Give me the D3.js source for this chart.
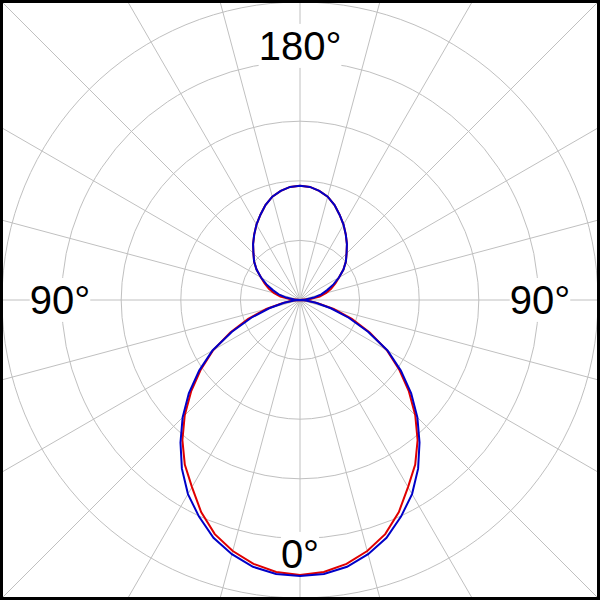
<!DOCTYPE html>
<html>
<head>
<meta charset="utf-8">
<script src="https://cdn.jsdelivr.net/npm/d3@7"></script>
<style>
  html, body { margin: 0; padding: 0; background: #fff; }
  svg { display: block; }
</style>
</head>
<body>
<script>
// Angles in degrees, measured from the 0° direction (pointing down)
const angles = [0,5,10,15,20,25,30,35,40,45,50,55,60,65,70,75,80,85,
  90,95,100,105,110,115,120,125,130,135,140,145,150,155,160,165,170,175,
  180,185,190,195,200,205,210,215,220,225,230,235,240,245,250,255,260,265,
  270,275,280,285,290,295,300,305,310,315,320,325,330,335,340,345,350,355];

// Measured pattern (blue)
const measured = [0.926,0.923,0.909,0.883,0.849,0.802,0.752,0.691,0.624,0.557,0.487,0.413,0.339,0.252,0.174,0.107,0.054,0.020,
  0,0.020,0.047,0.074,0.097,0.124,0.151,0.178,0.201,0.221,0.245,0.268,0.292,0.315,0.339,0.359,0.372,0.381,
  0.383,0.381,0.372,0.359,0.339,0.315,0.292,0.268,0.245,0.221,0.201,0.178,0.151,0.124,0.097,0.074,0.047,0.020,
  0,0.020,0.054,0.107,0.174,0.252,0.339,0.413,0.487,0.557,0.624,0.691,0.752,0.802,0.849,0.883,0.909,0.923];

// Reference pattern (red)
const reference = [0.923,0.916,0.899,0.872,0.836,0.785,0.725,0.674,0.614,0.547,0.477,0.406,0.336,0.258,0.185,0.117,0.060,0.023,
  0,0.034,0.067,0.091,0.111,0.131,0.151,0.178,0.201,0.221,0.245,0.268,0.292,0.315,0.339,0.359,0.372,0.381,
  0.383,0.381,0.372,0.359,0.339,0.315,0.292,0.268,0.245,0.221,0.201,0.178,0.151,0.131,0.111,0.091,0.067,0.034,
  0,0.023,0.060,0.117,0.185,0.258,0.336,0.406,0.477,0.547,0.614,0.674,0.725,0.785,0.836,0.872,0.899,0.916];

const ringValues = [0.2, 0.4, 0.6, 0.8, 1.0];
const spokeAngles = d3.range(0, 360, 15);
const labelAngles = [0, 90, 180, 270];
const labelTexts = ["0°", "90°", "180°", "90°"];

const W = 600, H = 600, cx = 300, cy = 300;
const svg = d3.select("body").append("svg").attr("width", W).attr("height", H);

svg.append("rect").attr("x",0).attr("y",0).attr("width",W).attr("height",H).attr("fill","#fff");

svg.append("defs").append("clipPath").attr("id","clip")
  .append("rect").attr("x",2).attr("y",2).attr("width",W-4).attr("height",H-4);

const r = d3.scaleLinear().domain([0, 1]).range([0, 298]);
const toRad = d => (180 - d) * Math.PI / 180; // d3 radial: 0 = up, clockwise

const g = svg.append("g").attr("clip-path","url(#clip)")
  .append("g").attr("transform", `translate(${cx},${cy})`);

const gridColor = "#c0c0c0";
// spokes
g.selectAll("line.spoke").data(spokeAngles).join("line")
  .attr("class","spoke")
  .attr("x1",0).attr("y1",0)
  .attr("x2", d => 450 * Math.sin(toRad(d)))
  .attr("y2", d => -450 * Math.cos(toRad(d)))
  .attr("stroke", gridColor).attr("stroke-width",1);
// rings
g.selectAll("circle.ring").data(ringValues).join("circle")
  .attr("class","ring").attr("r", d => r(d))
  .attr("fill","none").attr("stroke", gridColor).attr("stroke-width",1);

// labels with white background
const lab = g.selectAll("g.lab").data(labelAngles).join("g").attr("class","lab");
const rxL = 240, ryL = 254;
lab.each(function(d, i) {
  const sel = d3.select(this);
  const a = d * Math.PI / 180;
  const x = rxL * Math.sin(a), y = ryL * Math.cos(a);
  const t = sel.append("text")
    .attr("x", x).attr("y", y + 13.9)
    .attr("text-anchor","middle")
    .attr("font-family","'Liberation Sans', Arial, sans-serif")
    .attr("font-size", 40)
    .attr("fill","#000")
    .text(labelTexts[i]);
  const bb = t.node().getBBox();
  sel.insert("rect","text")
    .attr("x", bb.x).attr("y", bb.y).attr("width", bb.width).attr("height", bb.height)
    .attr("fill","#fff");
});

const line = d3.lineRadial()
  .angle(d => toRad(d[0]))
  .radius(d => r(d[1]))
  .curve(d3.curveLinearClosed);

g.append("path").datum(angles.map((a,i) => [a, reference[i]]))
  .attr("d", line).attr("fill","none").attr("stroke","#e00000").attr("stroke-width",2);
g.append("path").datum(angles.map((a,i) => [a, measured[i]]))
  .attr("d", line).attr("fill","none").attr("stroke","#0000c8").attr("stroke-width",2);

// frame
svg.append("rect").attr("x",1.5).attr("y",1.5).attr("width",W-3).attr("height",H-3)
  .attr("fill","none").attr("stroke","#000").attr("stroke-width",3);
</script>
</body>
</html>
